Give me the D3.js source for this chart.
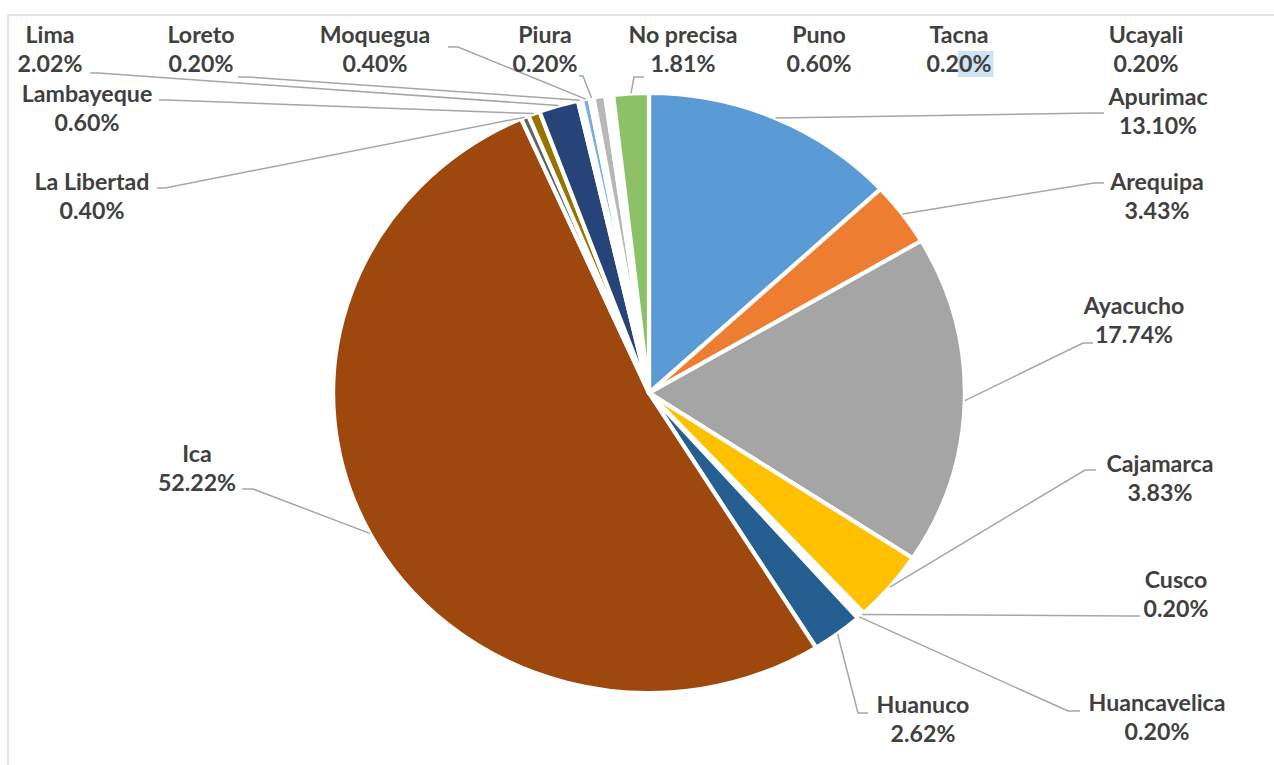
<!DOCTYPE html>
<html>
<head>
<meta charset="utf-8">
<script src="https://cdn.jsdelivr.net/npm/d3@7"></script>
<style>
  html, body { margin: 0; padding: 0; background: #ffffff; }
  svg { display: block; }
  text { font-family: Lato, "Open Sans", sans-serif; font-weight: bold; fill: #404040; }
</style>
</head>
<body>
<svg id="chart" width="1274" height="765"></svg>
<script>
// ---- data ----
const regions = ["Apurimac","Arequipa","Ayacucho","Cajamarca","Cusco","Huancavelica","Huanuco","Ica","La Libertad","Lambayeque","Lima","Loreto","Moquegua","Piura","Puno","Tacna","Ucayali","No precisa"];
const shares  = [13.10, 3.43, 17.74, 3.83, 0.20, 0.20, 2.62, 52.22, 0.40, 0.60, 2.02, 0.20, 0.40, 0.20, 0.60, 0.20, 0.20, 1.81];
const sliceColors = ["#5B9BD5","#ED7D31","#A5A5A5","#FFC000","#4472C4","#70AD47","#255E91","#9E480E","#636363","#997300","#264478","#43682B","#7CAFDD","#F1975A","#B7B7B7","#FFCD33","#698ED0","#8CC168"];

// ---- layout (label placement: text centre x, first-line y, leader elbow points) ----
const labelLayout = [
  {x:1158, y:97,  elbow:[[1094,113],[1104,113]]},   // Apurimac
  {x:1157, y:182, elbow:[[1094,183],[1104,183]]},   // Arequipa
  {x:1134, y:306, elbow:[[1083,343],[1093,343]]},   // Ayacucho
  {x:1160, y:464, elbow:[[1085,470],[1096,470]]},   // Cajamarca
  {x:1176, y:580, elbow:[[1130,616],[1140,616]]},   // Cusco
  {x:1157, y:703, elbow:[[1068,711],[1080,711]]},   // Huancavelica
  {x:923,  y:705, elbow:[[858,713],[868,713]]},     // Huanuco
  {x:197,  y:454, elbow:[[253,489],[242,489]]},     // Ica
  {x:92,   y:182, elbow:[[165,188],[157,188]]},     // La Libertad
  {x:87,   y:94,  elbow:[[167,100],[159,100]]},     // Lambayeque
  {x:50,   y:35,  elbow:[[98,73],[90,73]]},         // Lima
  {x:201,  y:35,  elbow:[[248,77],[238,77]]},       // Loreto
  {x:375,  y:35,  elbow:[[458,47],[448,47]]},       // Moquegua
  {x:545,  y:35,  elbow:[[583,76],[579,76]]},       // Piura
  {x:819,  y:35,  elbow:null},                      // Puno
  {x:959,  y:35,  elbow:null},                      // Tacna
  {x:1146, y:35,  elbow:null},                      // Ucayali
  {x:683,  y:35,  elbow:[[634,77],[644,77]]}        // No precisa
];

const svg = d3.select("#chart");
const W = 1274, H = 765;
const cx = 649, cy = 393, R = 300, sx = 1.053;

svg.append("rect").attr("width", W).attr("height", H).attr("fill", "#ffffff");
// chart area border
svg.append("rect").attr("x", 8).attr("y", 15).attr("width", W).attr("height", H)
  .attr("fill", "none").attr("stroke", "#d9d9d9").attr("stroke-width", 1.5);

const pie = d3.pie().sort(null).value(d => d);
const arcs = pie(shares);
const arcGen = d3.arc().innerRadius(0).outerRadius(R);

const gPie = svg.append("g").attr("transform", `translate(${cx},${cy}) scale(${sx},1)`);
gPie.selectAll("path").data(arcs).join("path")
  .attr("d", arcGen)
  .attr("fill", (d, i) => sliceColors[i])
  .attr("stroke", "#ffffff")
  .attr("stroke-width", 4)
  .attr("stroke-linejoin", "round");

// leader lines
const gLines = svg.append("g");
arcs.forEach((d, i) => {
  const L = labelLayout[i];
  if (!L.elbow) return;
  const a = (d.startAngle + d.endAngle) / 2;
  const p0 = [cx + R * Math.sin(a) * sx, cy - R * Math.cos(a)];
  const pts = [p0, L.elbow[0], L.elbow[1]];
  gLines.append("path")
    .attr("d", d3.line()(pts))
    .attr("fill", "none")
    .attr("stroke", "#a6a6a6")
    .attr("stroke-width", 1.5);
});

// labels
const FS = 22;
const gLab = svg.append("g");
arcs.forEach((d, i) => {
  const L = labelLayout[i];
  const g = gLab.append("g").attr("transform", `translate(${L.x},${L.y}) scale(${sx},1)`);
  g.append("text").attr("x", 0).attr("y", 0)
    .attr("text-anchor", "middle").attr("dominant-baseline", "central")
    .attr("font-size", FS).text(regions[i]);
  const t2 = g.append("text").attr("x", 0).attr("y", 29)
    .attr("text-anchor", "middle").attr("dominant-baseline", "central")
    .attr("font-size", FS).text(d3.format(".2f")(shares[i]) + "%");
  if (regions[i] === "Tacna") {
    const node = t2.node();
    const sx0 = node.getStartPositionOfChar(3).x;
    const wdt = node.getSubStringLength(3, 2);
    g.insert("rect", ":first-child")
      .attr("x", sx0 - 1).attr("y", 29 - 13)
      .attr("width", wdt + 3).attr("height", 26)
      .attr("fill", "#cfe3f5");
  }
});
</script>
</body>
</html>
